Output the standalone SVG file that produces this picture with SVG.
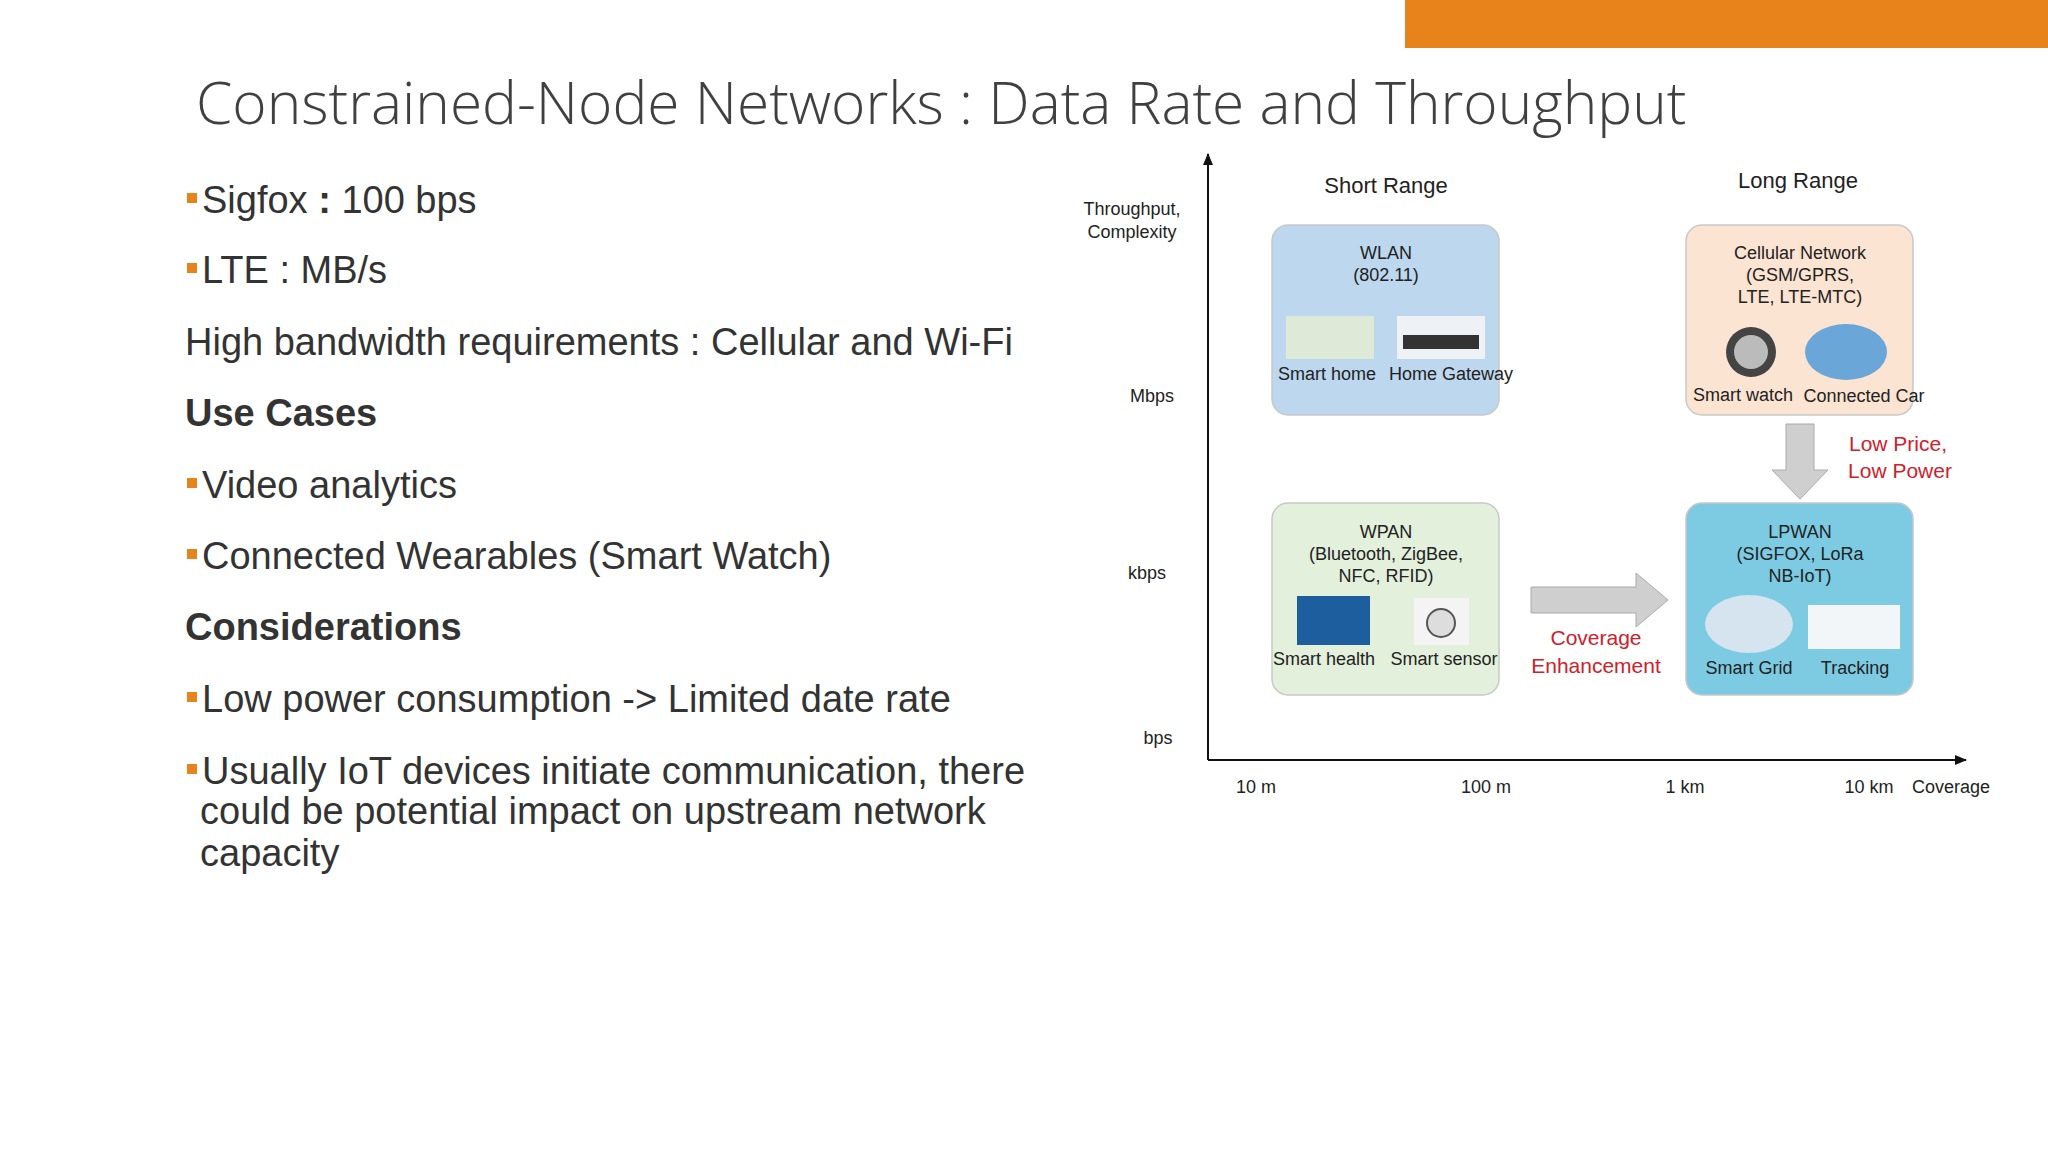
<svg xmlns="http://www.w3.org/2000/svg" width="2048" height="1152" viewBox="0 0 2048 1152">
<style>
.t{font-family:"Liberation Sans",Arial,sans-serif;fill:#333}
.b{font-size:38px}
.d{font-size:18px;text-anchor:middle;fill:#222}
.h{font-size:22px;text-anchor:middle;fill:#222}
.r{font-size:21px;text-anchor:middle;fill:#d0202a}
.box{stroke:#c8c8c8;stroke-width:1.5}
</style>
<defs>
<marker id="ah" markerWidth="12" markerHeight="10" refX="11" refY="5" orient="auto" markerUnits="userSpaceOnUse"><path d="M0,0 L12,5 L0,10 Z" fill="#111"/></marker>
</defs>
<rect width="2048" height="1152" fill="#fff"/>
<rect x="1405" y="0" width="643" height="48" fill="#e8821a"/>
<text x="196" y="124" font-family="Open Sans,sans-serif" font-weight="300" font-size="58.6" fill="#404040">Constrained-Node Networks : Data Rate and Throughput</text>
<g id="bullets" class="t b">
<g fill="#e8821a"><rect x="187" y="193" width="10" height="10"/><rect x="187" y="263" width="10" height="10"/><rect x="187" y="478" width="10" height="10"/><rect x="187" y="549" width="10" height="10"/><rect x="187" y="692" width="10" height="10"/><rect x="187" y="764" width="10" height="10"/></g>
<text x="202" y="213">Sigfox <tspan font-weight="bold">:</tspan> 100 bps</text>
<text x="202" y="283">LTE : MB/s</text>
<text x="185" y="355">High bandwidth requirements : Cellular and Wi-Fi</text>
<text x="185" y="426" font-weight="bold">Use Cases</text>
<text x="202" y="498">Video analytics</text>
<text x="202" y="569">Connected Wearables (Smart Watch)</text>
<text x="185" y="640" font-weight="bold">Considerations</text>
<text x="202" y="712">Low power consumption -&gt; Limited date rate</text>
<text x="202" y="784">Usually IoT devices initiate communication, there</text>
<text x="200" y="824">could be potential impact on upstream network</text>
<text x="200" y="866">capacity</text>
</g>
<g id="connectors">
<line x1="1208" y1="760" x2="1208" y2="154" stroke="#111" stroke-width="2" marker-end="url(#ah)"/>
<line x1="1208" y1="760" x2="1966" y2="760" stroke="#111" stroke-width="2" marker-end="url(#ah)"/>
<path d="M1786,424 h28 v46 h14 l-28,29 l-28,-29 h14 Z" fill="#cfcfcf" stroke="#aaa"/>
<path d="M1531,587 h105 v-14 l32,27 l-32,27 v-14 h-105 Z" fill="#cfcfcf" stroke="#aaa"/>
</g>
<g id="axis-labels" class="t">
<text class="d" x="1132" y="215">Throughput,</text>
<text class="d" x="1132" y="238">Complexity</text>
<text class="d" x="1152" y="402">Mbps</text>
<text class="d" x="1147" y="579">kbps</text>
<text class="d" x="1158" y="744">bps</text>
<text class="d" x="1256" y="793">10 m</text>
<text class="d" x="1486" y="793">100 m</text>
<text class="d" x="1685" y="793">1 km</text>
<text class="d" x="1869" y="793">10 km</text>
<text class="d" x="1951" y="793">Coverage</text>
<text class="h" x="1386" y="193">Short Range</text>
<text class="h" x="1798" y="188">Long Range</text>
<text class="r" x="1898" y="451">Low Price,</text>
<text class="r" x="1900" y="478">Low Power</text>
<text class="r" x="1596" y="645">Coverage</text>
<text class="r" x="1596" y="673">Enhancement</text>
</g>
<g id="wlan" class="t">
<rect class="box" x="1272" y="225" width="227" height="190" rx="16" fill="#bcd7ee"/>
<text class="d" x="1386" y="259">WLAN</text><text class="d" x="1386" y="281">(802.11)</text>
<rect x="1286" y="316" width="88" height="43" fill="#dfe9d8"/><rect x="1397" y="316" width="88" height="43" fill="#eef2f6"/><rect x="1403" y="335" width="76" height="14" fill="#333"/>
<text class="d" x="1327" y="380">Smart home</text><text class="d" x="1451" y="380">Home Gateway</text>
</g>
<g id="cellular" class="t">
<rect class="box" x="1686" y="225" width="227" height="190" rx="16" fill="#fce4d2"/>
<text class="d" x="1800" y="259">Cellular Network</text><text class="d" x="1800" y="281">(GSM/GPRS,</text><text class="d" x="1800" y="303">LTE, LTE-MTC)</text>
<circle cx="1751" cy="352" r="25" fill="#444"/><circle cx="1751" cy="352" r="17" fill="#bbb"/>
<ellipse cx="1846" cy="352" rx="41" ry="28" fill="#6aa6d8"/>
<text class="d" x="1743" y="401">Smart watch</text><text class="d" x="1864" y="402">Connected Car</text>
</g>
<g id="wpan" class="t">
<rect class="box" x="1272" y="503" width="227" height="192" rx="16" fill="#e3f0dc"/>
<text class="d" x="1386" y="538">WPAN</text><text class="d" x="1386" y="560">(Bluetooth, ZigBee,</text><text class="d" x="1386" y="582">NFC, RFID)</text>
<rect x="1297" y="596" width="73" height="49" fill="#1d5f9e"/><rect x="1414" y="598" width="55" height="47" fill="#f4f4f4"/><circle cx="1441" cy="623" r="14" fill="#ddd" stroke="#555" stroke-width="2"/>
<text class="d" x="1324" y="665">Smart health</text><text class="d" x="1444" y="665">Smart sensor</text>
</g>
<g id="lpwan" class="t">
<rect class="box" x="1686" y="503" width="227" height="192" rx="16" fill="#7ccbe3"/>
<text class="d" x="1800" y="538">LPWAN</text><text class="d" x="1800" y="560">(SIGFOX, LoRa</text><text class="d" x="1800" y="582">NB-IoT)</text>
<ellipse cx="1749" cy="624" rx="44" ry="29" fill="#d6e4ef"/><rect x="1808" y="605" width="92" height="44" fill="#f2f6f8"/>
<text class="d" x="1749" y="674">Smart Grid</text><text class="d" x="1855" y="674">Tracking</text>
</g>
</svg>
